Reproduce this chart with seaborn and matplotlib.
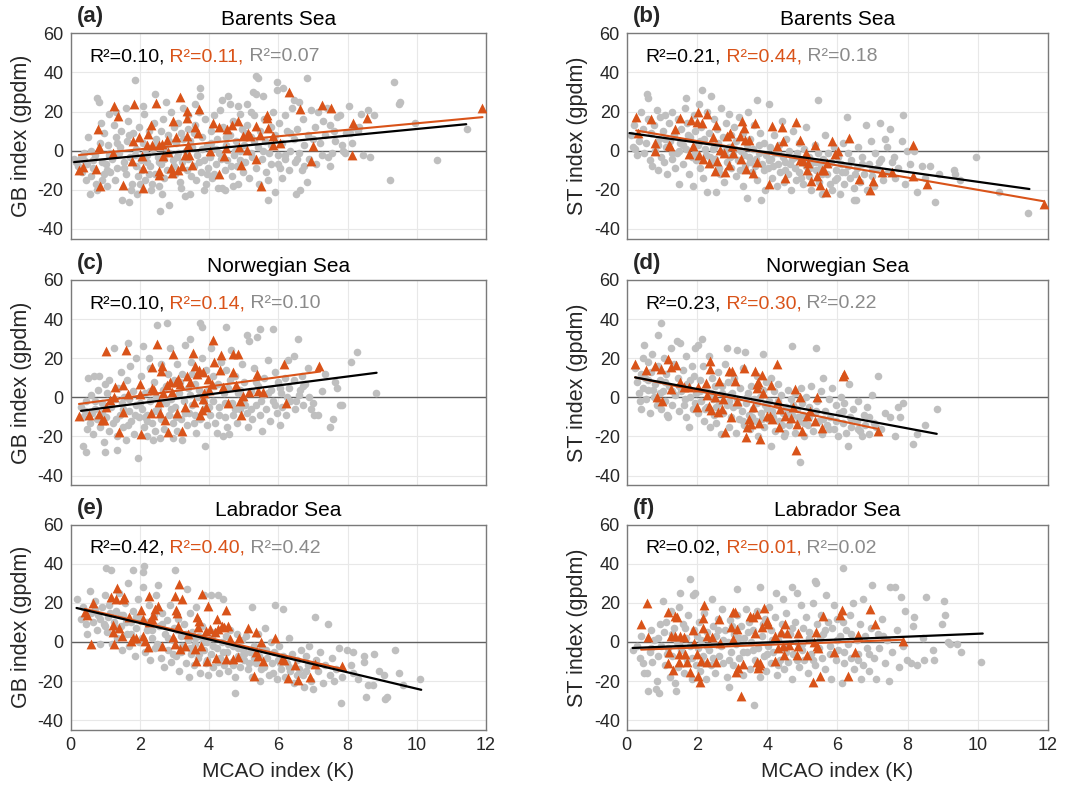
#!/usr/bin/env python3

import matplotlib
matplotlib.use("Agg")
import matplotlib.pyplot as plt
import numpy as np
import seaborn as sns


ORANGE = "#D95319"
GRAY_DOT = "#BFBFBF"
GRAY_TXT = "#8A8A8A"

panel_letters = ["(a)", "(b)", "(c)", "(d)", "(e)", "(f)"]
panel_titles = ["Barents Sea", "Barents Sea", "Norwegian Sea", "Norwegian Sea",
                "Labrador Sea", "Labrador Sea"]
ylabels = ["GB index (gpdm)", "ST index (gpdm)"] * 3
xlabel = "MCAO index (K)"

# R^2: all events, orange subset, gray subset
r2_all = ["0.10", "0.21", "0.10", "0.23", "0.42", "0.02"]
r2_orange = ["0.11", "0.44", "0.14", "0.30", "0.40", "0.01"]
r2_gray = ["0.07", "0.18", "0.10", "0.22", "0.42", "0.02"]

# regression lines: slope, intercept, x start, x end
black_slope = [1.71, -2.51, 2.28, -3.36, -4.20, 0.74]
black_icpt = [-6.0, 9.2, -7.6, 11.0, 18.1, -3.2]
black_xrange = [(0.10, 11.43), (0.08, 11.47), (0.30, 8.84), (0.24, 8.83), (0.17, 10.13), (0.17, 10.14)]
orange_slope = [1.66, -3.12, 2.38, -3.81, -4.13, 0.68]
orange_icpt = [-2.6, 11.2, -3.97, 11.1, 18.6, -4.2]
orange_xrange = [(0.24, 11.90), (0.27, 11.89), (0.24, 7.21), (0.24, 7.17), (0.41, 7.85), (0.41, 7.86)]

# ---- (a) Barents Sea, GB ----
gray_a = [(0.10,-4),(0.15,-6),(0.22,-8),(0.30,-3),(0.32,-11),(0.40,-5),(0.45,-15),(0.48,-7),(0.50,7),(0.38,-1),
          (0.55,-22),(0.60,-13),(0.65,-9),(0.70,-2),(0.72,-17),(0.77,27),(0.83,25),(0.85,4),(0.90,-6),(0.95,-12),(0.60,0),(0.95,9),(0.75,-20),(0.88,14),
          (1.02,-7),(1.05,-18),(1.08,3),(1.12,19),(1.15,-11),(1.20,-4),(1.25,13),(1.28,-15),(1.32,7),(1.35,-9),(1.40,-1),(1.45,10),(1.48,-25),(1.10,-2),(1.30,20),(1.42,2),
          (1.55,-6),(1.60,-12),(1.62,5),(1.65,15),(1.70,-26),(1.72,-3),(1.78,-17),(1.80,9),(1.86,36),(1.88,-8),(1.90,1),(1.95,-13),(1.98,12),(1.60,22),(1.75,-20),(1.92,-22),
          (2.02,-5),(2.05,-10),(2.08,4),(2.12,19),(2.15,-15),(2.20,-2),(2.25,10),(2.30,-8),(2.32,-20),(2.38,1),(2.40,14),(2.44,29),(2.45,-12),(2.48,6),(2.10,23),(2.35,-17),(2.20,-6),
          (2.52,-3),(2.55,-18),(2.58,-31),(2.60,10),(2.62,-7),(2.68,16),(2.70,-14),(2.72,2),(2.78,-10),(2.80,8),(2.85,-28),(2.85,-1),(2.90,20),(2.95,-5),(2.98,12),(2.65,-22),(2.75,25),
          (3.02,-12),(3.05,4),(3.08,-3),(3.10,14),(3.15,-16),(3.18,9),(3.22,-6),(3.25,22),(3.30,-23),(3.32,0),(3.35,-10),(3.40,18),(3.45,-22),(3.45,5),(3.48,-13),(3.20,-19),(3.38,11),
          (3.52,2),(3.55,-8),(3.60,13),(3.62,-15),(3.65,-2),(3.70,20),(3.74,32),(3.74,28),(3.78,-11),(3.80,7),(3.85,-5),(3.88,16),(3.90,-17),(3.95,3),(3.98,-9),(3.60,24),(3.85,-20),
          (4.02,-3),(4.05,10),(4.08,-14),(4.10,1),(4.15,18),(4.20,-7),(4.22,6),(4.25,-19),(4.30,-1),(4.36,26),(4.36,-19),(4.40,12),(4.45,-10),(4.46,-20),(4.48,3),(4.15,-12),(4.32,21),
          (4.52,-5),(4.56,28),(4.60,24),(4.60,8),(4.65,-13),(4.70,15),(4.72,-2),(4.78,5),(4.80,-8),(4.85,-17),(4.88,19),(4.90,0),(4.95,11),(4.98,-11),(4.68,-18),(4.85,23),
          (5.02,3),(5.05,-6),(5.09,24),(5.10,13),(5.15,-14),(5.20,7),(5.25,-3),(5.28,30),(5.30,18),(5.37,38),(5.42,37),(5.37,29),(5.35,-9),(5.40,2),(5.45,-17),(5.48,10),(5.20,20),
          (5.52,-4),(5.57,28),(5.60,16),(5.62,5),(5.65,-11),(5.71,-25),(5.72,-1),(5.78,12),(5.80,-7),(5.85,20),(5.91,-21),(5.95,35),(5.97,31),(5.90,8),(5.98,-2),
          (6.02,14),(6.05,-9),(6.10,4),(6.15,32),(6.18,-4),(6.20,18),(6.25,10),(6.30,-10),(6.35,0),(6.40,22),(6.44,26),(6.45,6),(6.48,-6),(6.10,-14),
          (6.51,-22),(6.55,11),(6.60,-1),(6.63,-20),(6.68,-10),(6.70,16),(6.75,3),(6.82,-16),(6.84,37),(6.85,8),(6.90,-4),(6.95,21),(6.60,25),
          (7.05,12),(7.10,-7),(7.15,20),(7.20,4),(7.25,-2),(7.30,15),(7.35,8),(7.40,22),(7.45,-3),(7.50,-8),(7.48,13),
          (7.54,-1),(7.60,10),(7.65,5),(7.70,17),(7.78,18),(7.85,3),(7.88,0),(7.93,-1),(7.95,9),
          (8.03,23),(8.07,9),(8.12,4),(8.20,12),(8.30,10),(8.34,12),(8.40,19),(8.45,-2),
          (8.60,21),(8.65,-3),(8.77,18),(9.23,-15),(9.33,35),(9.50,24),(9.52,25),(9.95,14),(10.6,-5),(11.45,11),
          (1.15,-1),(1.35,4),(1.55,-9),(1.70,8),(1.85,-2),(2.00,-17),(2.15,-1),(2.25,-12),(2.45,3),(2.55,-6),
          (2.70,-4),(2.85,5),(3.00,-8),(3.10,-1),(3.25,6),(3.40,-4),(3.55,9),(3.70,-6),(3.80,1),(3.95,-12),
          (4.05,4),(4.20,1),(4.35,-4),(4.50,7),(4.62,-8),(4.75,0),(4.90,-5),(5.05,9),(5.20,-1),(5.30,5),
          (5.55,0),(5.70,-15),(5.80,3),(6.00,-7),(6.20,-2),(6.35,9),(6.55,-4),(6.75,-8),(7.00,6),(0.65,-5),
          (0.90,-15),(1.05,-10)]
tri_a = [(0.24,-9.7),(0.37,-8.5),(0.73,-9.2),(0.80,11.0),(0.83,1.7),(0.85,-17.9),(1.25,22.6),(1.21,-1.2),(1.38,17.5),
         (1.52,-17.7),(1.76,-5.4),(1.84,24.1),(1.81,4.9),(1.98,7.0),(2.08,-19.0),(2.10,-8.8),(2.05,-2.9),(2.20,2.7),
         (2.24,8.7),(2.31,13.3),(2.34,2.7),(2.46,24.3),(2.54,3.1),(2.55,-10.5),(2.56,-12.2),(2.65,3.4),(2.68,-2.9),
         (2.77,5.6),(2.82,-0.7),(2.90,-8.8),(2.92,-11.4),(2.97,15.0),(3.04,7.0),(3.11,-9.7),(3.16,27.4),(3.23,-8.0),
         (3.29,-2.0),(3.35,20.1),(3.35,16.7),(3.37,7.7),(3.40,2.7),(3.42,-2.4),(3.50,-7.5),(3.59,11.9),(3.67,9.0),
         (3.72,21.4),(4.03,-0.3),(4.12,14.1),(4.29,12.1),(4.29,-11.9),(4.44,-2.9),(4.49,1.4),(4.53,11.0),(4.67,13.3),
         (4.83,15.0),(4.87,1.7),(4.92,-7.5),(4.99,7.3),(5.10,0.2),(5.13,9.0),(5.18,7.7),(5.37,12.4),(5.37,-4.1),
         (5.47,8.2),(5.50,-18.2),(5.66,18.4),(5.66,16.7),(5.69,11.6),(5.86,7.3),(5.86,2.7),(6.05,3.9),(6.30,29.8),
         (6.63,21.4),(7.01,2.6),(6.94,-5.4),(7.26,23.6),(7.52,21.9),(8.15,14.1),(8.14,-2.0),(8.57,16.7),(11.90,21.8)]

# ---- (b) Barents Sea, ST ----
gray_b = [(0.12,8),(0.18,2),(0.20,13),(0.25,1),(0.30,-2),(0.35,5),(0.40,20),(0.45,11),(0.48,-1),
          (0.55,4),(0.57,29),(0.60,27),(0.60,16),(0.65,-5),(0.70,9),(0.72,-8),(0.78,13),(0.80,0),(0.85,21),(0.88,-10),(0.92,6),(0.95,17),(0.98,-3),
          (1.02,10),(1.05,-6),(1.08,18),(1.12,2),(1.15,-12),(1.20,14),(1.22,5),(1.28,-4),(1.30,20),(1.35,8),(1.38,-9),(1.42,-1),(1.45,16),(1.48,-17),
          (1.52,4),(1.55,11),(1.60,-7),(1.65,22),(1.68,27),(1.70,1),(1.72,14),(1.78,-12),(1.80,7),(1.85,-3),(1.90,-18),(1.92,18),(1.95,10),(1.98,-5),
          (2.02,3),(2.05,24),(2.08,-9),(2.12,12),(2.14,31),(2.18,-14),(2.20,6),(2.25,-2),(2.28,-21),(2.30,20),(2.35,9),(2.39,28),(2.40,-7),(2.45,1),(2.48,16),
          (2.52,-4),(2.54,-21),(2.56,11),(2.60,4),(2.65,-12),(2.68,22),(2.70,-1),(2.75,7),(2.78,-16),(2.82,14),(2.85,-6),(2.90,2),(2.92,19),(2.96,-9),(2.98,8),
          (3.02,-2),(3.05,12),(3.10,-13),(3.12,5),(3.18,-5),(3.20,17),(3.25,0),(3.30,-18),(3.32,9),(3.38,-8),(3.42,-24),(3.42,3),(3.45,20),(3.48,-3),
          (3.52,6),(3.56,-11),(3.60,1),(3.63,13),(3.68,-4),(3.72,26),(3.72,-15),(3.76,-1),(3.80,9),(3.82,-25),(3.85,-7),(3.90,4),(3.93,-20),(3.96,-2),
          (4.02,-9),(4.06,24),(4.08,2),(4.12,-4),(4.15,-14),(4.20,8),(4.22,-1),(4.28,-18),(4.30,-7),(4.35,3),(4.38,-11),(4.42,15),(4.45,-3),(4.48,-16),
          (4.52,-6),(4.55,6),(4.60,-12),(4.62,0),(4.68,-20),(4.70,-4),(4.75,10),(4.78,-9),(4.82,-15),(4.85,-1),(4.90,4),(4.92,-11),(4.96,-6),
          (5.02,-17),(5.05,1),(5.10,-8),(5.12,12),(5.18,-3),(5.20,-13),(5.25,-20),(5.30,-6),(5.35,3),(5.38,-10),(5.44,26),(5.45,-1),(5.48,-16),
          (5.52,-8),(5.56,-22),(5.60,-4),(5.65,8),(5.70,-12),(5.72,-1),(5.78,-17),(5.82,-6),(5.86,-20),(5.90,2),(5.95,-10),(5.98,-14),
          (6.02,-3),(6.08,-22),(6.10,-7),(6.15,4),(6.20,-17),(6.22,-11),(6.27,17),(6.30,-1),(6.35,-14),(6.40,-5),(6.46,-25),(6.48,-19),
          (6.53,-25),(6.55,-9),(6.60,2),(6.65,-16),(6.70,-3),(6.75,-12),(6.82,13),(6.85,-20),(6.90,-7),(6.95,5),(6.98,-13),
          (7.03,-18),(7.08,-1),(7.12,-9),(7.22,14),(7.25,-4),(7.30,-15),(7.35,6),(7.41,2),(7.45,-11),(7.50,11),
          (7.55,-6),(7.60,-3),(7.65,-14),(7.72,-9),(7.84,5),(7.88,18),(7.92,-17),(7.98,0),
          (8.07,-7),(8.17,0),(8.26,-21),(8.40,-8),(8.50,-14),(8.64,-8),(8.78,-26),(8.90,-12),
          (9.31,-10),(9.35,-12),(9.50,-15),(9.95,-3),(10.60,-21),(11.44,-32),
          (0.90,3),(1.10,6),(1.30,-1),(1.50,0),(1.60,3),(1.75,8),(1.95,-1),(2.10,5),(2.22,1),(2.38,-3),
          (2.50,2),(2.62,-9),(2.80,0),(2.95,-3),(3.08,1),(3.22,-10),(3.35,-2),(3.50,-6),(3.65,-8),(3.78,3),
          (3.90,-10),(4.05,-5),(4.18,-8),(4.32,-1),(4.50,-10),(4.65,-7),(4.80,-3),(4.95,-14),(5.08,-5),(5.22,-9),
          (5.40,-6),(5.55,-12),(5.75,-7),(5.92,-15),(6.12,-11),(6.30,-8),(6.50,-12),(6.70,-7),(7.00,-10),(7.20,-6)]
tri_b = [(0.27,17.2),(0.33,9.0),(0.70,16.3),(0.81,3.9),(0.81,-0.3),(1.21,3.1),(1.23,2.2),(1.38,11.1),(1.52,16.7),
         (1.76,-1.5),(1.82,15.5),(1.90,2.2),(2.01,14.5),(2.04,19.6),(2.07,-2.0),(2.14,14.1),(2.18,-4.1),(2.30,18.9),
         (2.33,-6.3),(2.45,7.0),(2.52,-10.5),(2.54,13.3),(2.56,-5.4),(2.66,0.5),(2.77,-1.2),(2.80,-11.0),(2.85,7.3),
         (2.90,-7.1),(2.94,9.0),(2.99,2.2),(3.04,-1.2),(3.23,7.3),(3.26,-4.3),(3.28,15.3),(3.34,11.6),(3.37,5.6),
         (3.39,-9.4),(3.49,5.6),(3.59,-11.4),(3.66,14.1),(3.72,-5.8),(4.04,-16.8),(4.13,12.4),(4.27,2.2),(4.43,11.9),
         (4.46,4.8),(4.51,-13.9),(4.82,14.6),(4.94,5.6),(4.94,-4.6),(5.03,-5.4),(5.10,-1.2),(5.13,-10.0),(5.16,-6.3),
         (5.25,-15.6),(5.37,2.7),(5.41,-13.1),(5.51,-17.3),(5.56,-10.0),(5.63,-10.0),(5.68,-21.1),(5.70,-6.3),
         (5.86,5.1),(5.94,-1.5),(6.03,-0.3),(6.32,6.5),(6.63,-14.3),(6.93,-19.9),(7.01,-15.6),(7.26,-10.9),
         (7.55,-10.9),(8.15,3.1),(8.15,-13.1),(8.55,-17.0),(11.89,-27.2)]

# ---- (c) Norwegian Sea, GB ----
gray_c = [(0.30,-5),(0.35,-10),(0.37,-25),(0.43,-28),(0.45,-2),(0.48,-16),(0.50,10),(0.42,-7),
          (0.55,-13),(0.60,1),(0.65,-19),(0.68,11),(0.70,-6),(0.75,-11),(0.80,4),(0.83,11),(0.85,-15),(0.90,-3),(0.95,-23),(0.99,-28),(0.98,7),(0.62,-8),
          (1.02,-10),(1.05,2),(1.10,-17),(1.12,9),(1.18,-5),(1.22,-13),(1.26,25),(1.28,-1),(1.33,-27),(1.35,-20),(1.38,5),(1.42,-9),(1.45,13),(1.48,-3),
          (1.52,-15),(1.55,0),(1.60,-22),(1.62,9),(1.67,28),(1.68,-7),(1.72,16),(1.75,-12),(1.80,3),(1.82,-19),(1.88,-4),(1.90,20),(1.96,-31),(1.98,-10),(1.70,-1),
          (2.02,11),(2.05,-6),(2.10,26),(2.12,-15),(2.15,2),(2.20,-20),(2.22,-9),(2.28,15),(2.30,-2),(2.35,-13),(2.39,-22),(2.40,8),(2.45,-17),(2.49,37),(2.48,0),(2.25,20),
          (2.52,-6),(2.58,-21),(2.60,17),(2.62,-11),(2.68,4),(2.70,-16),(2.75,-3),(2.77,38),(2.80,12),(2.85,-9),(2.88,25),(2.90,-1),(2.95,-13),(2.97,-21),(2.98,9),
          (3.02,-5),(3.06,17),(3.08,-17),(3.12,2),(3.18,-11),(3.21,-22),(3.22,12),(3.28,-2),(3.30,27),(3.35,-14),(3.38,5),(3.42,-8),(3.45,30),(3.48,18),
          (3.52,-4),(3.55,-13),(3.60,7),(3.62,-18),(3.68,0),(3.74,38),(3.79,36),(3.75,-11),(3.80,20),(3.85,-6),(3.88,-25),(3.90,14),(3.95,-14),(3.98,4),
          (4.02,-9),(4.05,25),(4.10,-2),(4.12,11),(4.18,-13),(4.22,-18),(4.25,7),(4.30,-5),(4.35,18),(4.39,-20),(4.42,2),(4.45,-10),(4.49,36),(4.48,14),
          (4.52,-15),(4.55,5),(4.58,-19),(4.62,24),(4.65,-3),(4.70,-9),(4.75,11),(4.80,-13),(4.85,2),(4.90,-6),(4.95,17),(4.98,-1),
          (5.02,8),(5.09,32),(5.10,-8),(5.13,-15),(5.16,29),(5.20,3),(5.25,-11),(5.30,15),(5.35,-4),(5.38,31),(5.42,6),(5.47,35),(5.48,-9),
          (5.52,-17),(5.55,1),(5.60,10),(5.65,-6),(5.70,19),(5.75,-12),(5.80,4),(5.84,35),(5.85,-2),(5.90,13),(5.95,-8),(5.98,8),
          (6.05,-14),(6.08,2),(6.12,-5),(6.18,10),(6.22,-9),(6.29,19),(6.30,5),(6.35,-2),(6.44,21),(6.45,9),(6.48,-6),
          (6.58,30),(6.60,1),(6.63,4),(6.68,11),(6.72,-4),(6.78,7),(6.85,15),(6.90,0),(6.95,-6),(7.01,-3),
          (7.04,-9),(7.16,-9),(7.25,3),(7.35,12),(7.50,-15),(7.59,-11),(7.65,8),(7.69,5),(7.78,-4),(7.85,-4),
          (8.10,18),(8.27,23),(8.83,2),
          (0.70,-2),(0.90,-8),(1.10,-4),(1.30,-11),(1.50,-6),(1.65,-14),(1.85,-9),(2.00,-3),(2.15,-10),(2.30,3),
          (2.45,-7),(2.60,-2),(2.75,6),(2.90,-6),(3.05,-10),(3.15,8),(3.30,-8),(3.45,1),(3.60,-9),(3.70,4),
          (3.85,-2),(4.00,-5),(4.15,6),(4.30,-9),(4.45,-3),(4.60,9),(4.75,-6),(4.90,4),(5.05,-4),(5.20,-6),
          (5.35,8),(5.50,-2),(5.70,2),(5.90,-4),(6.05,5),(6.25,0),(6.50,-2),(6.70,6),(3.50,12),(2.20,-12)]
tri_c = [(0.24,-9.7),(0.53,-8.9),(0.82,-8.5),(0.90,-11.4),(0.96,-11.7),(1.02,23.8),(1.02,-4.7),(1.14,-1.3),(1.25,0.3),
         (1.28,5.4),(1.41,-17.8),(1.52,6.2),(1.52,-7.5),(1.59,24.1),(1.65,1.7),(2.02,-18.9),(2.00,7.0),(2.00,1.7),
         (2.31,-8.0),(2.34,15.4),(2.34,4.9),(2.41,3.7),(2.49,27.1),(2.54,-2.2),(2.58,-8.0),(2.60,13.7),(2.63,16.2),
         (2.68,2.0),(2.72,-11.7),(2.77,6.2),(2.80,-17.6),(2.87,7.9),(2.92,2.8),(2.95,22.1),(3.04,7.9),(3.06,-8.0),
         (3.11,9.5),(3.16,7.0),(3.23,-17.3),(3.30,-4.7),(3.35,10.7),(3.45,7.9),(3.53,22.9),(3.55,-2.2),(3.59,16.2),
         (3.64,12.1),(3.72,14.1),(3.74,-8.9),(3.79,-6.4),(3.81,-1.0),(3.83,12.9),(3.85,2.0),(3.91,-4.7),(3.98,9.5),
         (4.01,3.7),(4.08,7.0),(4.12,29.1),(4.15,18.3),(4.32,14.1),(4.34,21.6),(4.39,5.4),(4.54,-3.0),(4.68,12.9),
         (4.70,22.1),(4.78,6.5),(4.83,22.1),(4.89,-1.8),(4.92,-9.2),(4.99,0.7),(5.16,2.8),(5.38,12.1),(5.40,3.4),
         (5.57,2.5),(6.17,17.1),(6.22,-2.7),(7.19,16.2)]

# ---- (d) Norwegian Sea, ST ----
gray_d = [(0.25,15),(0.30,8),(0.35,2),(0.38,-2),(0.40,12),(0.45,5),(0.47,20),(0.49,27),(0.42,-6),
          (0.52,10),(0.55,-1),(0.60,18),(0.62,4),(0.65,-8),(0.70,13),(0.72,22),(0.78,0),(0.80,7),(0.85,-4),(0.90,32),(0.90,16),(0.95,9),(0.97,38),(0.98,-6),
          (1.02,3),(1.05,20),(1.10,-2),(1.12,12),(1.15,-9),(1.19,-10),(1.20,6),(1.25,25),(1.30,-4),(1.35,17),(1.38,1),(1.44,29),(1.45,10),(1.48,-7),
          (1.52,28),(1.55,3),(1.60,14),(1.62,-4),(1.68,21),(1.70,-10),(1.72,7),(1.76,-15),(1.80,0),(1.85,16),(1.88,-6),(1.92,11),(1.95,25),(1.98,2),
          (2.02,-8),(2.04,27),(2.08,9),(2.12,-2),(2.14,30),(2.18,16),(2.20,-12),(2.25,4),(2.30,-5),(2.35,21),(2.38,-15),(2.42,10),(2.45,-1),(2.48,-9),
          (2.52,6),(2.55,-13),(2.60,13),(2.62,-3),(2.68,-19),(2.70,2),(2.75,-8),(2.80,17),(2.85,25),(2.85,-4),(2.88,8),(2.92,-15),(2.95,1),(2.98,-10),
          (3.02,-5),(3.05,10),(3.10,-18),(3.13,24),(3.15,-1),(3.20,-11),(3.22,5),(3.28,-7),(3.30,15),(3.35,-14),(3.37,23),(3.40,-3),(3.45,2),(3.48,-9),
          (3.52,-16),(3.55,6),(3.60,-6),(3.62,-1),(3.68,-12),(3.70,11),(3.75,-20),(3.80,0),(3.82,-8),(3.87,22),(3.88,4),(3.92,-15),(3.95,-4),(3.98,8),
          (4.02,-11),(4.05,-2),(4.10,-25),(4.10,10),(4.15,-7),(4.20,3),(4.22,-17),(4.28,-4),(4.30,7),(4.35,-12),(4.40,1),(4.45,-8),(4.48,-20),(4.51,-18),
          (4.55,-5),(4.58,4),(4.62,-14),(4.68,-1),(4.72,26),(4.72,-9),(4.78,-18),(4.80,2),(4.85,-6),(4.90,-12),(4.94,-33),(4.95,5),(4.98,-3),
          (5.02,-9),(5.05,-20),(5.10,0),(5.15,-14),(5.20,-5),(5.25,6),(5.30,-17),(5.35,-8),(5.39,25),(5.42,-2),(5.48,-12),
          (5.52,3),(5.55,-19),(5.60,10),(5.65,-7),(5.70,-14),(5.75,-1),(5.80,-10),(5.85,5),(5.90,-16),(5.95,-4),(6.01,-20),
          (6.05,-8),(6.10,0),(6.15,-13),(6.20,-3),(6.25,-18),(6.30,-25),(6.32,7),(6.35,-10),(6.40,-15),(6.45,-6),
          (6.55,-12),(6.60,-2),(6.65,-17),(6.70,-20),(6.75,-9),(6.80,-14),(6.85,-5),(6.89,-19),(6.98,1),
          (7.05,-13),(7.17,11),(7.25,-16),(7.35,-8),(7.50,-10),(7.63,-20),(7.72,-5),(7.77,-10),(7.88,-3),
          (8.15,-24),(8.26,-19),(8.50,-14),(8.83,-6),
          (0.60,9),(0.75,4),(0.95,2),(1.10,8),(1.30,3),(1.50,6),(1.65,-1),(1.80,9),(1.95,-3),(2.10,3),
          (2.22,-6),(2.40,2),(2.55,-5),(2.70,6),(2.90,-2),(3.00,2),(3.18,-4),(3.30,-12),(3.42,0),(3.58,-10),
          (3.70,-3),(3.85,-11),(4.00,-6),(4.18,-10),(4.30,-2),(4.42,-14),(4.60,-8),(4.75,-4),(4.88,-10),(5.05,-13),
          (5.20,-10),(5.40,-7),(5.58,-11),(5.75,-16),(5.95,-12),(6.15,-7),(6.40,-11),(6.60,-16),(6.90,-10),(7.10,-15)]
tri_d = [(0.24,17.0),(0.55,14.1),(0.81,16.2),(0.87,0.3),(0.97,14.5),(1.00,-2.0),(1.17,19.6),(1.26,15.3),(1.41,16.5),
         (1.25,4.3),(1.52,8.0),(1.63,5.1),(1.76,5.1),(2.00,-5.1),(2.04,5.5),(2.25,7.2),(2.33,-4.3),(2.36,18.7),
         (2.38,14.5),(2.28,1.4),(2.41,-6.5),(2.52,0.0),(2.59,-7.7),(2.62,8.5),(2.71,-6.0),(2.75,-0.9),(2.80,-17.5),
         (2.92,13.3),(2.96,-10.2),(3.01,13.3),(3.08,8.5),(3.13,-1.7),(3.35,14.8),(3.39,-20.1),(3.42,-15.3),(3.49,-11.1),
         (3.54,-13.6),(3.61,-5.1),(3.64,13.3),(3.70,6.8),(3.72,4.6),(3.75,8.0),(3.78,-13.3),(3.80,-21.3),(3.85,11.6),
         (3.89,2.0),(3.99,-9.4),(4.08,-9.7),(4.10,6.5),(4.15,-11.1),(4.29,17.0),(4.32,-1.7),(4.35,-15.3),(4.37,-6.0),
         (4.51,-9.4),(4.67,-10.7),(4.75,-4.8),(4.80,4.3),(4.82,-26.9),(4.86,-13.6),(4.94,0.0),(5.00,-17.0),(5.13,-9.7),
         (5.22,-6.8),(5.37,-11.9),(5.41,0.0),(5.57,-15.7),(6.15,11.1),(6.20,11.9),(7.17,-17.0)]

# ---- (e) Labrador Sea, GB ----
gray_e = [(0.19,22),(0.30,12),(0.35,18),(0.44,9),(0.48,4),
          (0.56,26),(0.60,15),(0.65,10),(0.70,21),(0.75,6),(0.80,14),(0.85,-1),(0.90,18),(0.95,9),(0.98,24),
          (1.02,38),(1.05,5),(1.08,13),(1.12,19),(1.18,37),(1.20,-1),(1.25,10),(1.30,16),(1.35,2),(1.40,25),(1.45,8),(1.48,-4),
          (1.52,14),(1.58,20),(1.62,4),(1.65,30),(1.70,-2),(1.75,10),(1.80,16),(1.81,37),(1.85,-7),(1.90,7),(1.95,22),(1.98,0),
          (2.03,12),(2.08,28),(2.10,36),(2.12,39),(2.15,-5),(2.20,6),(2.25,19),(2.30,-9),(2.35,2),(2.40,14),(2.45,-3),(2.48,24),
          (2.53,29),(2.55,8),(2.60,-8),(2.65,15),(2.70,-13),(2.72,4),(2.78,11),(2.82,-4),(2.88,19),(2.90,-10),(2.95,1),(2.98,7),
          (3.02,37),(3.05,-7),(3.10,12),(3.12,-15),(3.18,3),(3.22,-2),(3.28,9),(3.32,-11),(3.35,27),(3.38,1),(3.42,-18),(3.45,15),(3.48,-6),
          (3.52,5),(3.55,-12),(3.60,-1),(3.62,18),(3.68,-8),(3.72,3),(3.75,-16),(3.80,8),(3.85,24),(3.85,-4),(3.90,-11),(3.95,0),(3.98,-17),
          (4.05,24),(4.05,-6),(4.08,2),(4.12,-13),(4.18,5),(4.22,-3),(4.27,24),(4.28,-16),(4.32,-8),(4.38,0),(4.41,22),(4.42,-12),(4.48,3),
          (4.52,-5),(4.55,-15),(4.60,6),(4.65,-10),(4.70,-2),(4.75,-26),(4.75,-18),(4.80,4),(4.85,-7),(4.90,-13),(4.95,1),(4.98,-4),
          (5.02,-9),(5.08,3),(5.12,-14),(5.18,-5),(5.23,18),(5.25,-18),(5.30,-2),(5.35,-11),(5.40,4),(5.45,-7),(5.48,-20),
          (5.52,-3),(5.58,-13),(5.62,7),(5.68,-8),(5.72,-17),(5.78,0),(5.82,-11),(5.90,19),(5.88,-5),(5.95,-19),(5.98,-9),
          (6.03,-2),(6.08,-14),(6.15,17),(6.15,-7),(6.20,-18),(6.25,-11),(6.30,2),(6.35,-15),(6.40,-6),(6.45,-21),
          (6.55,-9),(6.60,-14),(6.65,-4),(6.70,-17),(6.75,-23),(6.80,-7),(6.85,-12),(6.90,-2),(6.95,-20),(7.01,-24),
          (7.06,13),(7.10,-9),(7.15,-15),(7.20,-5),(7.30,-21),(7.35,-12),(7.45,9),(7.48,-17),
          (7.55,-8),(7.60,-20),(7.68,-14),(7.75,-3),(7.80,-31),(7.85,-18),(7.98,-4),
          (8.10,-12),(8.17,-5),(8.17,-16),(8.30,-19),(8.48,-7),(8.48,-10),(8.54,-28),(8.60,-22),(8.73,-22),(8.77,-6),(8.90,-15),
          (9.04,-17),(9.09,-29),(9.15,-28),(9.37,-4),(9.50,-16),(9.61,-22),(10.10,-19),
          (0.70,17),(0.85,12),(1.00,8),(1.15,15),(1.30,7),(1.45,14),(1.60,10),(1.75,4),(1.90,13),(2.05,2),
          (2.20,10),(2.35,6),(2.50,-1),(2.65,9),(2.80,2),(2.95,-6),(3.08,6),(3.20,-5),(3.32,4),(3.45,-3),
          (3.58,2),(3.70,-6),(3.82,0),(3.95,-9),(4.10,-2),(4.25,-10),(4.40,-5),(4.55,-1),(4.70,-12),(4.85,-3),
          (5.00,-6),(5.15,-11),(5.30,-8),(5.50,-14),(5.65,-4),(5.85,-16),(6.05,-11),(6.30,-13),(6.55,-17),(6.80,-15)]
tri_e = [(0.41,15.2),(0.48,13.8),(0.58,-1.0),(0.64,19.8),(1.17,22.8),(1.21,8.7),(1.23,4.9),(1.26,-1.0),(1.35,27.6),
         (1.31,22.0),(1.41,7.0),(1.47,3.2),(1.52,22.0),(1.55,22.8),(1.70,12.6),(1.73,0.7),(1.81,2.0),(1.90,2.0),
         (2.03,16.5),(2.08,11.8),(2.10,3.2),(2.15,0.7),(2.23,-2.7),(2.27,23.3),(2.27,10.0),(2.34,11.8),(2.39,13.8),
         (2.43,16.9),(2.53,18.2),(2.63,-1.9),(2.97,2.4),(3.02,23.7),(3.02,-1.0),(3.04,16.5),(3.06,14.8),(3.11,8.0),
         (3.13,29.6),(3.16,-3.6),(3.23,22.0),(3.30,-1.9),(3.38,4.1),(3.59,-3.6),(3.62,-9.5),(3.64,12.6),(3.69,7.5),
         (3.72,10.9),(3.79,24.5),(3.77,-1.9),(3.90,5.8),(3.93,-9.5),(3.98,18.2),(4.03,6.6),(4.17,5.3),(4.20,-8.3),
         (4.24,11.8),(4.27,6.6),(4.36,8.3),(4.44,7.5),(4.49,-8.7),(4.49,16.5),(4.56,8.3),(4.60,1.5),(4.70,-8.7),
         (4.83,-7.8),(4.87,1.9),(5.13,7.0),(5.30,-17.5),(5.36,-5.3),(5.37,4.9),(5.40,-7.0),(5.50,-0.2),(5.57,-9.5),
         (5.90,1.9),(6.10,-8.7),(6.17,-9.0),(6.29,-18.6),(6.48,-11.6),(6.56,-19.4),(6.92,-17.7),(7.06,-11.2),(7.85,-12.1)]

# ---- (f) Labrador Sea, ST ----
gray_f = [(0.19,-4),(0.30,-2),(0.38,-8),(0.46,-11),(0.48,-16),(0.42,3),
          (0.57,-16),(0.60,-25),(0.65,-5),(0.70,6),(0.72,-10),(0.78,1),(0.84,-24),(0.85,-20),(0.88,-7),(0.92,-26),(0.95,9),(0.98,-2),
          (1.04,21),(1.05,5),(1.10,-12),(1.12,10),(1.18,-3),(1.22,-18),(1.25,16),(1.30,-7),(1.35,7),(1.38,-21),(1.40,-25),(1.42,0),(1.45,-13),(1.48,18),
          (1.52,25),(1.55,-4),(1.60,9),(1.62,-16),(1.68,2),(1.72,-9),(1.75,14),(1.79,32),(1.80,-2),(1.85,-19),(1.90,24),(1.92,6),(1.95,25),(1.98,-12),
          (2.02,-3),(2.05,10),(2.10,-15),(2.12,1),(2.18,-7),(2.20,15),(2.25,-19),(2.30,5),(2.35,-4),(2.40,-12),(2.42,22),(2.45,8),(2.48,-1),
          (2.52,-16),(2.55,3),(2.60,12),(2.62,-7),(2.68,-2),(2.72,17),(2.75,-11),(2.80,6),(2.85,-18),(2.88,0),(2.92,-23),(2.95,11),(2.98,-5),
          (3.02,-12),(3.05,4),(3.10,-1),(3.15,27),(3.15,14),(3.20,-8),(3.25,8),(3.30,-17),(3.35,2),(3.40,17),(3.42,-5),(3.48,10),
          (3.52,-14),(3.55,0),(3.60,6),(3.63,-32),(3.65,-9),(3.70,16),(3.75,-3),(3.80,28),(3.80,-18),(3.85,3),(3.90,-7),(3.95,12),(3.98,-15),
          (4.02,-2),(4.05,18),(4.10,-11),(4.12,6),(4.18,-5),(4.22,13),(4.25,25),(4.28,-17),(4.32,1),(4.38,-9),(4.42,9),(4.46,22),(4.48,-14),
          (4.52,-3),(4.55,15),(4.60,-10),(4.65,4),(4.70,-19),(4.72,28),(4.75,-6),(4.80,10),(4.84,25),(4.85,0),(4.90,-13),(4.95,19),(4.98,-4),
          (5.02,7),(5.05,-9),(5.10,13),(5.15,-16),(5.20,2),(5.25,-6),(5.30,20),(5.37,31),(5.39,30),(5.35,-12),(5.42,9),(5.48,-3),
          (5.52,14),(5.55,-8),(5.60,4),(5.65,-14),(5.68,24),(5.72,10),(5.78,-2),(5.82,-19),(5.85,7),(5.91,19),(5.95,-9),(5.98,12),
          (6.02,-4),(6.08,3),(6.13,-21),(6.15,10),(6.17,38),(6.20,-11),(6.25,6),(6.30,-1),(6.35,14),(6.40,-8),(6.44,20),(6.48,-14),
          (6.55,1),(6.60,-6),(6.65,9),(6.68,-19),(6.72,-12),(6.74,22),(6.80,3),(6.85,-3),(6.90,-15),(6.95,7),(7.00,29),
          (7.05,-8),(7.10,-19),(7.15,4),(7.20,-3),(7.28,12),(7.35,-11),(7.42,1),(7.48,-20),(7.50,28),
          (7.55,-5),(7.64,28),(7.70,6),(7.75,-13),(7.82,23),(7.88,-2),(7.93,16),(7.98,-9),
          (8.10,-11),(8.14,8),(8.19,13),(8.26,-12),(8.45,2),(8.47,-9),(8.53,23),(8.72,-4),(8.74,-9),(8.97,9),
          (9.05,21),(9.07,14),(9.14,0),(9.21,-1),(9.40,-1),(9.52,-5),(10.09,-10),
          (0.70,-3),(0.90,2),(1.15,-6),(1.30,4),(1.50,-1),(1.65,7),(1.85,-8),(2.00,3),(2.15,-11),(2.30,-2),
          (2.45,-8),(2.60,6),(2.75,1),(2.90,-9),(3.00,8),(3.20,2),(3.30,-5),(3.45,5),(3.60,-4),(3.72,-11),
          (3.88,9),(4.00,-6),(4.15,1),(4.30,-12),(4.40,4),(4.55,-5),(4.70,7),(4.85,-9),(5.00,-1),(5.18,5),
          (5.30,-9),(5.50,2),(5.65,6),(5.80,-6),(6.00,1),(6.20,-5),(6.40,4),(6.60,-9),(6.90,-6),(7.30,3)]
tri_f = [(0.41,9.2),(0.57,20.0),(0.62,2.4),(1.19,15.5),(1.21,-5.3),(1.19,-10.8),(1.26,3.2),(1.31,-14.3),(1.38,13.5),
         (1.42,12.6),(1.38,3.2),(1.52,3.2),(1.50,-6.1),(1.50,-10.1),(1.63,2.4),(1.66,-6.1),(1.71,-10.1),(1.80,-15.5),
         (1.88,6.3),(1.92,-0.5),(2.00,-6.1),(2.04,-17.2),(2.09,-20.6),(2.12,-9.6),(2.17,7.2),(2.18,12.1),(2.21,18.9),
         (2.28,3.2),(2.28,-10.4),(2.42,2.4),(2.55,-10.4),(2.62,11.8),(2.66,-0.5),(2.96,7.8),(3.02,1.5),(3.04,15.2),
         (3.09,15.2),(3.11,-15.5),(3.13,6.7),(3.18,-13.3),(3.25,-27.5),(3.32,-11.3),(3.51,13.5),(3.61,12.6),(3.66,4.6),
         (3.70,-10.4),(3.72,14.3),(3.75,-13.3),(3.77,-11.6),(3.80,-10.8),(3.85,7.5),(3.92,17.2),(3.99,10.6),(4.02,9.2),
         (4.23,3.2),(4.23,-9.6),(4.32,-3.2),(4.40,4.9),(4.44,-2.2),(4.48,-6.5),(4.51,9.2),(4.56,4.6),(4.61,-1.5),
         (4.84,-6.5),(4.87,4.6),(4.89,-2.2),(5.13,-6.5),(5.30,-20.3),(5.34,-0.2),(5.40,5.3),(5.43,-1.9),(5.46,-3.2),
         (5.51,-17.2),(5.58,13.5),(5.91,-4.9),(6.08,13.8),(6.13,16.4),(6.29,-17.2),(6.51,-5.3),(6.58,3.6),(6.93,16.9),
         (7.08,9.2),(7.86,0.3)]

gray_sets = [gray_a, gray_b, gray_c, gray_d, gray_e, gray_f]
tri_sets = [tri_a, tri_b, tri_c, tri_d, tri_e, tri_f]

# axes boxes in figure fractions
LEFT_COL = (0.0656, 0.3856)
RIGHT_COL = (0.5819, 0.3912)
ROW_BOTTOMS = [0.6986, 0.3872, 0.0783]
ROW_HEIGHT = 0.2593


def draw_r2(ax, idx):
    pieces = [(f"R²={r2_all[idx]},", "black"),
              (f" R²={r2_orange[idx]},", ORANGE),
              (f" R²={r2_gray[idx]}", GRAY_TXT)]
    prev = ax.text(0.044, 0.885, pieces[0][0], color=pieces[0][1], fontsize=14,
                   transform=ax.transAxes, ha="left", va="center")
    for s, c in pieces[1:]:
        prev = ax.annotate(s, xy=(1, 0), xycoords=prev, ha="left", va="bottom",
                           color=c, fontsize=14)


def plot_panels(outfile):
    sns.set_style("whitegrid")
    plt.rcParams["font.family"] = ["Liberation Sans", "DejaVu Sans"]
    plt.rcParams["axes.unicode_minus"] = False

    fig = plt.figure(figsize=(10.77, 7.92), dpi=100)

    for i in range(6):
        col = LEFT_COL if i % 2 == 0 else RIGHT_COL
        row = i // 2
        ax = fig.add_axes([col[0], ROW_BOTTOMS[row], col[1], ROW_HEIGHT])

        gx, gy = np.array(gray_sets[i]).T
        tx, ty = np.array(tri_sets[i]).T

        ax.axhline(0, color="#5f5f5f", lw=1.0, zorder=1.5)
        sns.scatterplot(x=gx, y=gy, ax=ax, color=GRAY_DOT, marker="o", s=30,
                        linewidth=0, zorder=2)
        sns.scatterplot(x=tx, y=ty, ax=ax, color=ORANGE, marker="^", s=50,
                        linewidth=0, zorder=3)

        ox = np.array(orange_xrange[i])
        sns.lineplot(x=ox, y=orange_icpt[i] + orange_slope[i] * ox, ax=ax,
                     color=ORANGE, lw=1.5, zorder=4)
        bx = np.array(black_xrange[i])
        sns.lineplot(x=bx, y=black_icpt[i] + black_slope[i] * bx, ax=ax,
                     color="black", lw=1.6, zorder=5)

        ax.set_xlim(0, 12)
        ax.set_ylim(-45, 60)
        ax.set_xticks(np.arange(0, 13, 2))
        ax.set_yticks(np.arange(-40, 61, 20))
        ax.grid(True, color="#E8E8E8", lw=0.8)
        ax.set_axisbelow(True)
        for sp in ax.spines.values():
            sp.set_color("#7A7A7A")
            sp.set_linewidth(1.0)
        ax.tick_params(axis="both", labelsize=13, labelcolor="#262626",
                       direction="in", length=3, color="#7A7A7A", pad=5)

        ax.set_ylabel(ylabels[i], fontsize=15.5, color="#262626", labelpad=4)
        if row == 2:
            ax.set_xlabel(xlabel, fontsize=15, color="#262626", labelpad=6)
        else:
            ax.set_xlabel("")
            ax.tick_params(axis="x", labelbottom=False)

        ax.set_title(panel_titles[i], fontsize=15, color="black", pad=6)
        ax.annotate(panel_letters[i], xy=(0.015, 1), xycoords="axes fraction",
                    xytext=(0, 8), textcoords="offset points", ha="left",
                    va="baseline", fontsize=16, fontweight="bold")
        draw_r2(ax, i)

    fig.savefig(outfile, dpi=100)
    plt.close(fig)


if __name__ == "__main__":
    plot_panels("out.png")
